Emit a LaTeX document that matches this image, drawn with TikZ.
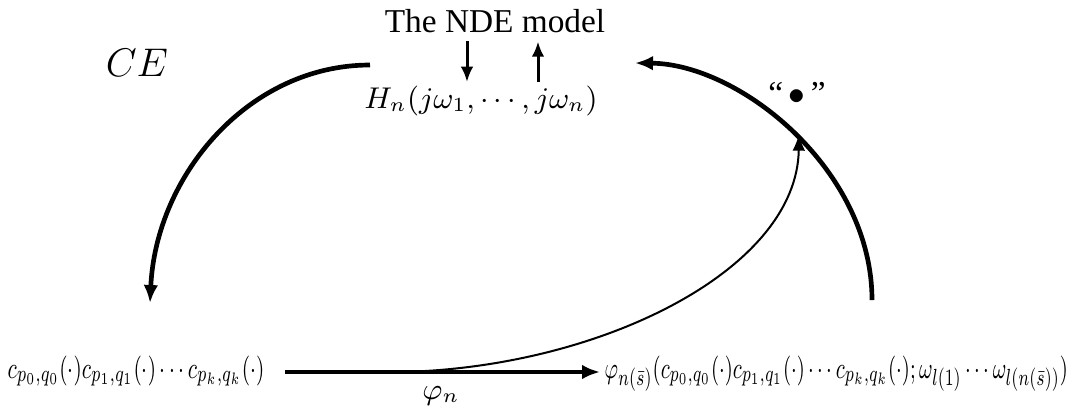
\documentclass[tikz,border=0pt]{standalone}
\usepackage{graphicx}
\usepackage{fontspec}
\setmainfont{Liberation Serif}
\usetikzlibrary{arrows.meta,calc}

\begin{document}
\begin{tikzpicture}[x=0.3pt,y=-0.3pt]
\tikzset{bigarc/.style={-{Latex[length=5.4pt,width=4.4pt]},line width=1.4pt},
 thinarc/.style={-{Latex[length=5pt,width=3.8pt]},line width=0.6pt},
 vert/.style={-{Latex[length=4.6pt,width=3.8pt]},line width=0.9pt},
 txt/.style={inner sep=0pt},
 mrow/.style={inner sep=0pt,anchor=base west,font=\fontsize{9.5}{11}\selectfont}}
\useasboundingbox (0,0) rectangle (1074,414);
% top of the loop
\node[txt] (nde) at (495,21) {The NDE model};
\node[txt,font=\fontsize{9}{11}\selectfont] (hfun) at (481,101) {$H_n(j\omega_1,\cdots,j\omega_n)$};
\coordinate (dnx) at (467,0);\coordinate (upx) at (538,0);
\draw[vert,shorten <=2.4pt,shorten >=1pt] (nde.south -| dnx) -- (hfun.north -| dnx);
\draw[vert,shorten <=1pt,shorten >=2.4pt] (hfun.north -| upx) -- (nde.south -| upx);
% bottom row
\node[mrow] (lhs) at (7,378) {\resizebox{77pt}{\height}{$c_{p_0,q_0}(\cdot)c_{p_1,q_1}(\cdot)\cdots c_{p_k,q_k}(\cdot)$}};
\node[mrow] (rhs) at (604,378) {\resizebox{139pt}{\height}{$\varphi_{n(\bar{s})}(c_{p_0,q_0}(\cdot)c_{p_1,q_1}(\cdot)\cdots c_{p_k,q_k}(\cdot);\omega_{l(1)}\cdots\omega_{l(n(\bar{s}))})$}};
\coordinate (arrl) at (285,372);\coordinate (arrr) at (600,372);
\draw[bigarc] (arrl) -- (arrr);
\node[txt,font=\fontsize{9}{11}\selectfont] (phin) at (441,396) {$\varphi_n$};
% the two big arcs
\coordinate (lstart) at (370,65);\coordinate (lend) at (150,303);
\draw[bigarc] (lstart) .. controls (249,65) and (156,175) .. (lend);
\node[txt,font=\large] (ce) at (137,63) {$CE$};
\coordinate (rstart) at (872,300);\coordinate (rend) at (635,63);
\draw[bigarc] (rstart) .. controls (872,170) and (740,64) .. (rend);
\node[txt] (dotlbl) at (797,93) {``\,$\bullet$\,''};
% thin curve onto the arc
\coordinate (split) at (400,372);\coordinate (hit) at (799,134);
\draw[thinarc] (split) .. controls (600,368) and (797,270) .. (hit);
\end{tikzpicture}
\end{document}
